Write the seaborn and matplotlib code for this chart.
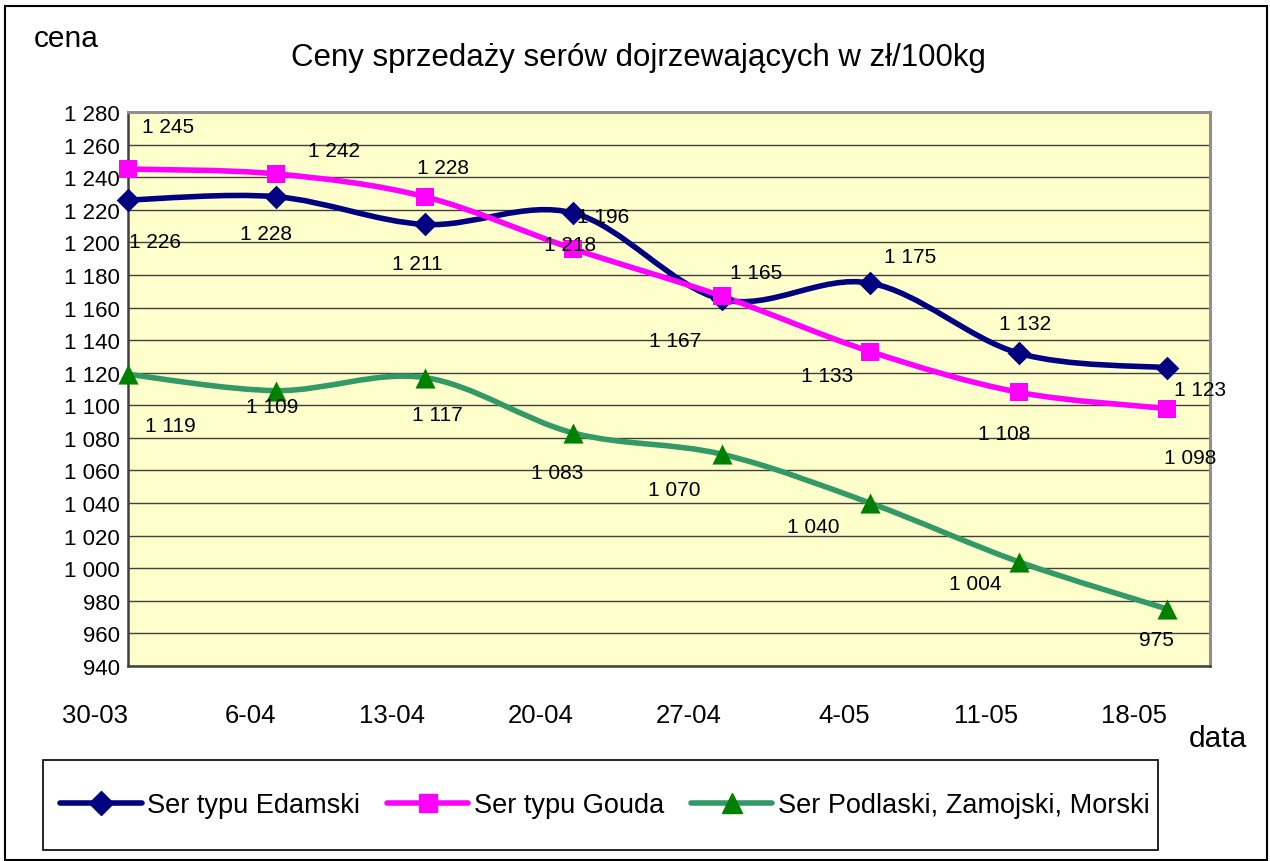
import numpy as np
import matplotlib
matplotlib.use("Agg")
import matplotlib.pyplot as plt
import seaborn as sns
from matplotlib.path import Path
from matplotlib.patches import PathPatch, Rectangle
from matplotlib.lines import Line2D
from matplotlib.transforms import ScaledTranslation

# --- data ---
dates = ["30-03", "6-04", "13-04", "20-04", "27-04", "4-05", "11-05", "18-05"]
edamski = [1226, 1228, 1211, 1218, 1165, 1175, 1132, 1123]
gouda = [1245, 1242, 1228, 1196, 1167, 1133, 1108, 1098]
podlaski = [1119, 1109, 1117, 1083, 1070, 1040, 1004, 975]
series_names = ["Ser typu Edamski", "Ser typu Gouda", "Ser Podlaski, Zamojski, Morski"]
y_ticks = list(range(940, 1281, 20))

# data label offsets in pixels (dx, dy down), as placed on the original
off_edamski = [(27, 42), (-10, 37), (-8, 39), (-3, 31), (34, -27), (40, -27), (7, -30), (33, 22)]
off_gouda = [(40, -43), (58, -23), (18, -29), (30, -32), (-47, 44), (-43, 24), (-14, 41), (23, 49)]
off_podlaski = [(42, 51), (-4, 16), (13, 37), (-16, 40), (-47, 35), (-57, 23), (-43, 22), (-11, 31)]

W, H = 1270, 862


def fmt(v):
    return f"{v:,}".replace(",", " ")


def smooth_path(xs, ys):
    # excel-like smoothed line: cubic bezier through the points
    pts = np.column_stack([xs, ys]).astype(float)
    n = len(pts)
    verts = [pts[0]]
    codes = [Path.MOVETO]
    for i in range(n - 1):
        p0 = pts[i - 1] if i > 0 else pts[i]
        p1, p2 = pts[i], pts[i + 1]
        p3 = pts[i + 2] if i + 2 < n else pts[i + 1]
        verts += [p1 + (p2 - p0) / 6, p2 - (p3 - p1) / 6, p2]
        codes += [Path.CURVE4] * 3
    return Path(verts, codes)


sns.set_theme(style="white")
plt.rcParams['font.family'] = ['Liberation Sans', 'DejaVu Sans']
plt.rcParams['text.color'] = 'black'
plt.rcParams['xtick.labelcolor'] = 'black'
plt.rcParams['ytick.labelcolor'] = 'black'

fig = plt.figure(figsize=(W / 100, H / 100), dpi=100)
ax = fig.add_axes([128 / W, 1 - 667 / H, (1210 - 128) / W, (667 - 113) / H])
ax.set_facecolor("#FFFFCC")

x = np.arange(len(dates))
styles = [
    (edamski, "#000080", "#000080", "D", 145, off_edamski),
    (gouda, "#FF00FF", "#FF00FF", "s", 165, off_gouda),
    (podlaski, "#339966", "#008000", "^", 210, off_podlaski),
]

handles = []
for (vals, lc, mc, mk, ms, offs), name in zip(styles, series_names):
    ax.add_patch(PathPatch(smooth_path(x, vals), fill=False, edgecolor=lc, lw=4,
                           capstyle="round", joinstyle="round", zorder=3))
    sns.scatterplot(x=x, y=vals, marker=mk, s=ms, color=mc, edgecolor=mc,
                    linewidth=0, zorder=4, ax=ax, legend=False)
    for xi, v, (dx, dy) in zip(x, vals, offs):
        ax.annotate(fmt(v), (xi, v), xytext=(dx, -dy), textcoords="offset pixels",
                    ha="center", va="center", fontsize=15, color="black", zorder=5)
    handles.append(Line2D([], [], color=lc, lw=4, marker=mk, markersize=np.sqrt(ms),
                          markerfacecolor=mc, markeredgecolor=mc, solid_capstyle="round"))
for coll in ax.collections:
    coll.set_clip_on(False)

ax.set_xlim(0, 7.29)
ax.set_ylim(940, 1280)
ax.set_yticks(y_ticks)
ax.set_yticklabels([fmt(v) for v in y_ticks], fontsize=16)
ax.set_xticks(x)
ax.set_xticklabels(dates, fontsize=18.5, ha="right")
shift = ScaledTranslation(-6 / 100, 0, fig.dpi_scale_trans)
for lab in ax.get_xticklabels():
    lab.set_transform(lab.get_transform() + shift)
ax.tick_params(axis="x", direction="out", length=6, width=1.2, pad=21, color="#404040",
               labelcolor="black")
ax.tick_params(axis="y", direction="out", length=4.5, width=1.2, pad=1.5, color="#404040",
               labelcolor="black")
ax.yaxis.grid(True, color="#404040", lw=1)
ax.xaxis.grid(False)
ax.set_axisbelow(True)
for side in ["left", "bottom"]:
    ax.spines[side].set_color("#404040")
    ax.spines[side].set_linewidth(1.8)
for side in ["top", "right"]:
    ax.spines[side].set_color("#909090")
    ax.spines[side].set_linewidth(2.2)
ax.set_xlabel("")
ax.set_ylabel("")

fig.text(638 / W, 1 - 58 / H, "Ceny sprzedaży serów dojrzewających w zł/100kg",
         ha="center", va="center", fontsize=22.5, color="black")
fig.text(66 / W, 1 - 39 / H, "cena", ha="center", va="center", fontsize=21.5, color="black")
fig.text(1218 / W, 1 - 739 / H, "data", ha="center", va="center", fontsize=21.5, color="black")

# outer chart border and legend box
fig.patches.append(Rectangle((5 / W, 1 / H), 1262 / W, 854 / H, transform=fig.transFigure,
                             fill=False, edgecolor="black", lw=1.5))
fig.patches.append(Rectangle((43 / W, 1 - 851 / H), (1158 - 43) / W, 90 / H,
                             transform=fig.transFigure, fill=False, edgecolor="black", lw=1.2))
leg = fig.legend(handles, series_names, loc="center", bbox_to_anchor=(605 / W, 1 - 806 / H),
                 ncol=3, frameon=False, fontsize=19.5, handlelength=3.0, handletextpad=0.2,
                 columnspacing=1.0, numpoints=1)
for t in leg.get_texts():
    t.set_color("black")

fig.savefig("out.png", dpi=100, facecolor="white")
